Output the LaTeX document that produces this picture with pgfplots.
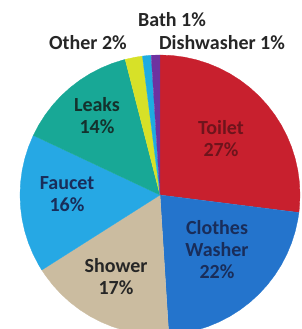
\documentclass[border=0pt]{standalone}
\usepackage{pgfplots}
\pgfplotsset{compat=1.18}
\usepgfplotslibrary{polar}
\usepackage{fontspec}
\setmainfont{Carlito}
\definecolor{cToilet}{RGB}{200,32,46}
\definecolor{cWasher}{RGB}{36,116,204}
\definecolor{cShower}{RGB}{203,188,160}
\definecolor{cFaucet}{RGB}{38,168,228}
\definecolor{cLeaks}{RGB}{24,168,150}
\definecolor{cOther}{RGB}{215,225,40}
\definecolor{cBath}{RGB}{30,172,225}
\definecolor{cDish}{RGB}{110,50,160}
\definecolor{tToilet}{RGB}{110,20,28}
\definecolor{tBlue}{RGB}{25,45,90}
\definecolor{tLeaks}{RGB}{20,50,45}
\definecolor{tDark}{RGB}{38,38,38}
\begin{document}
% Shares (%): Toilet 27, Clothes Washer 22, Shower 17, Faucet 16, Leaks 14, Other 2, Bath 1, Dishwasher 1
% Slices start at 12 o'clock and run clockwise; 1% = 3.6 degrees.
\begin{tikzpicture}[x=1pt,y=1pt]
\useasboundingbox (0,0) rectangle (302,329);
\clip (0,0) rectangle (302,329);
\begin{polaraxis}[
  at={(160pt,134pt)}, anchor=origin,
  width=280pt, height=280pt, scale only axis,
  ymin=0, ymax=1, hide axis, clip=false,
]
\addplot[fill=cToilet, draw=cToilet, line width=0.3pt, line join=round] coordinates {(0,0) (90,1) (85,1) (80,1) (75,1) (70,1) (65,1) (60,1) (55,1) (50,1) (45,1) (40,1) (35,1) (30,1) (25,1) (20,1) (15,1) (10,1) (5,1) (0,1) (-5,1) (-7.2,1)};
\addplot[fill=cWasher, draw=cWasher, line width=0.3pt, line join=round] coordinates {(0,0) (-7.2,1) (-10,1) (-15,1) (-20,1) (-25,1) (-30,1) (-35,1) (-40,1) (-45,1) (-50,1) (-55,1) (-60,1) (-65,1) (-70,1) (-75,1) (-80,1) (-85,1) (-86.4,1)};
\addplot[fill=cShower, draw=cShower, line width=0.3pt, line join=round] coordinates {(0,0) (-86.4,1) (-90,1) (-95,1) (-100,1) (-105,1) (-110,1) (-115,1) (-120,1) (-125,1) (-130,1) (-135,1) (-140,1) (-145,1) (-147.6,1)};
\addplot[fill=cFaucet, draw=cFaucet, line width=0.3pt, line join=round] coordinates {(0,0) (-147.6,1) (-150,1) (-155,1) (-160,1) (-165,1) (-170,1) (-175,1) (-180,1) (-185,1) (-190,1) (-195,1) (-200,1) (-205,1) (-205.2,1)};
\addplot[fill=cLeaks, draw=cLeaks, line width=0.3pt, line join=round] coordinates {(0,0) (-205.2,1) (-210,1) (-215,1) (-220,1) (-225,1) (-230,1) (-235,1) (-240,1) (-245,1) (-250,1) (-255,1) (-255.6,1)};
\addplot[fill=cOther, draw=cOther, line width=0.3pt, line join=round] coordinates {(0,0) (-255.6,1) (-260,1) (-262.8,1)};
\addplot[fill=cBath, draw=cBath, line width=0.3pt, line join=round] coordinates {(0,0) (-262.8,1) (-265,1) (-266.4,1)};
\addplot[fill=cDish, draw=cDish, line width=0.3pt, line join=round] coordinates {(0,0) (-266.4,1) (-270,1)};
\end{polaraxis}
\tikzset{lab/.style={inner sep=0pt, align=center, font=\bfseries\fontsize{20}{22}\selectfont}}
\node[lab, text=tToilet] at (221,190.5) {Toilet\\27\%};
\node[lab, text=tBlue] at (217,79) {Clothes\\Washer\\22\%};
\node[lab, text=tDark] at (116,52) {Shower\\17\%};
\node[lab, text=tBlue] at (67,135) {Faucet\\16\%};
\node[lab, text=tLeaks] at (97,213) {Leaks\\14\%};
\node[lab, text=tDark] at (172,309) {Bath 1\%};
\node[lab, text=tDark] at (88,286.5) {Other 2\%};
\node[lab, text=tDark] at (222,286.5) {Dishwasher 1\%};
\end{tikzpicture}
\end{document}
